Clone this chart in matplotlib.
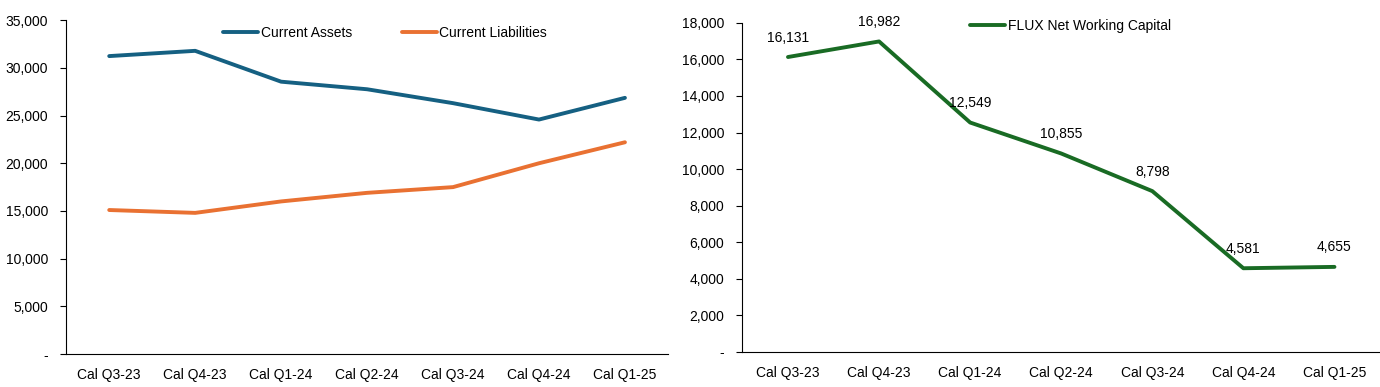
import matplotlib
matplotlib.use("Agg")
import matplotlib.pyplot as plt
from matplotlib.ticker import FuncFormatter

plt.rcParams['font.family'] = ['Liberation Sans', 'DejaVu Sans']
plt.rcParams['font.size'] = 10

quarters = ['Cal Q3-23', 'Cal Q4-23', 'Cal Q1-24', 'Cal Q2-24', 'Cal Q3-24', 'Cal Q4-24', 'Cal Q1-25']
current_assets = [31231, 31782, 28549, 27755, 26298, 24581, 26855]
current_liabilities = [15100, 14800, 16000, 16900, 17500, 20000, 22200]
net_working_capital = [16131, 16982, 12549, 10855, 8798, 4581, 4655]

BLUE = '#156082'
ORANGE = '#E97132'
GREEN = '#196B24'


def fmt(v, pos):
    if v == 0:
        return '-'
    return f'{v:,.0f}'


def style(ax):
    for s in ['top', 'right']:
        ax.spines[s].set_visible(False)
    ax.spines['left'].set_color('black')
    ax.spines['bottom'].set_color('black')
    ax.tick_params(axis='x', length=0, pad=10, labelsize=10)
    ax.tick_params(axis='y', length=4, direction='out', labelsize=10, pad=9)
    ax.yaxis.set_major_formatter(FuncFormatter(fmt))
    ax.set_xlim(-0.5, len(quarters) - 0.5)


fig = plt.figure(figsize=(13.8, 3.87), dpi=100)

ax1 = fig.add_axes([0.048, 0.085, 0.436, 0.863])
x = range(len(quarters))
ax1.plot(x, current_assets, color=BLUE, lw=2.8, label='Current Assets', solid_capstyle='round')
ax1.plot(x, current_liabilities, color=ORANGE, lw=2.8, label='Current Liabilities', solid_capstyle='round')
ax1.set_ylim(0, 35000)
ax1.set_yticks(range(0, 35001, 5000))
ax1.set_xticks(list(x))
ax1.set_xticklabels(quarters)
style(ax1)
ax1.legend(loc='upper center', bbox_to_anchor=(0.53, 1.02), ncol=2, frameon=False,
           handlelength=2.5, handletextpad=0.2, columnspacing=3.6, fontsize=10)

ax2 = fig.add_axes([0.538, 0.0904, 0.462, 0.8506])
ax2.plot(x, net_working_capital, color=GREEN, lw=2.8, label='FLUX Net Working Capital', solid_capstyle='round')
ax2.set_ylim(0, 18000)
ax2.set_yticks(range(0, 18001, 2000))
ax2.set_xticks(list(x))
ax2.set_xticklabels(quarters)
style(ax2)
for i, v in enumerate(net_working_capital):
    ax2.annotate(f'{v:,}', (i, v), xytext=(0, 9), textcoords='offset points',
                 ha='center', va='bottom', fontsize=10)
ax2.legend(loc='upper center', bbox_to_anchor=(0.515, 1.05), frameon=False,
           handlelength=2.5, handletextpad=0.2, fontsize=10)

fig.savefig('out.png', dpi=100)
